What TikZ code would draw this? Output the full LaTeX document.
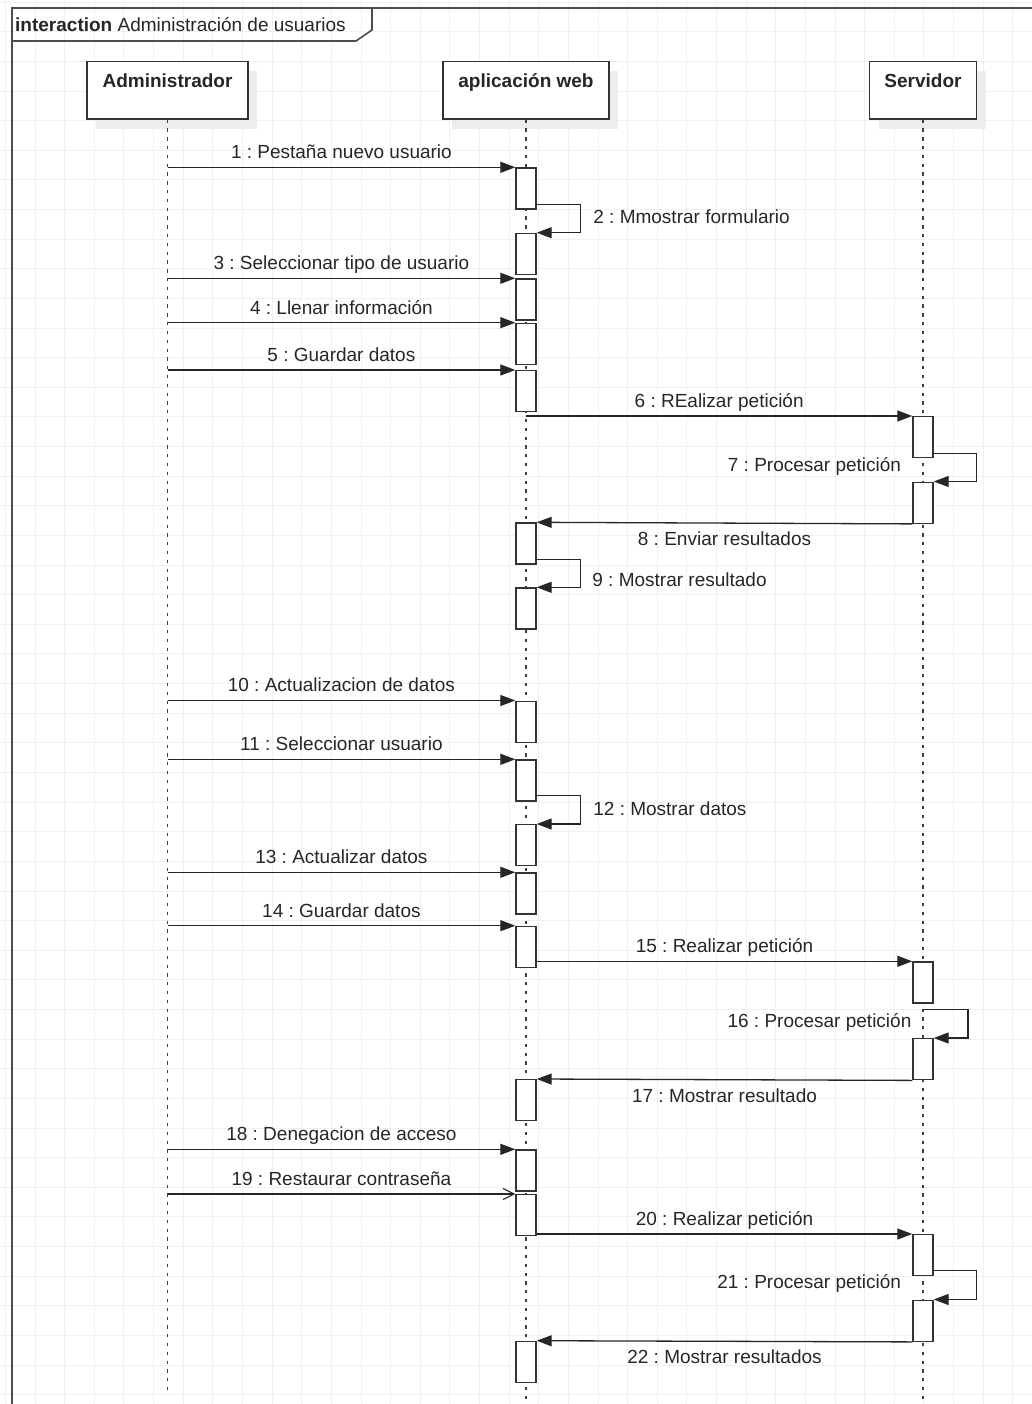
\documentclass[tikz,border=0pt]{standalone}
\usepackage{fontspec}
\setmainfont{Liberation Sans}
\usetikzlibrary{positioning,arrows.meta,shadows}
\frenchspacing

\begin{document}
\begin{tikzpicture}[x=1pt,y=-1pt,
  gridline/.style={draw=black!6, line width=0.9pt},
  frame/.style={draw=black!70, line width=1.6pt},
  lbl/.style={font=\fontsize{19}{22}\selectfont, text=black!85, inner sep=0pt, text height=14pt, text depth=0pt},
  actor/.style={draw=black!80, line width=1.4pt, fill=white, inner sep=0pt, anchor=north, text height=26.6pt, text depth=31pt, font=\fontsize{19}{22}\selectfont\bfseries, text=black!85, drop shadow={shadow xshift=9pt, shadow yshift=-10pt, fill=black!7, opacity=1}},
  act/.style={draw=black!80, line width=1.4pt, fill=white, minimum width=20pt, minimum height=41pt, inner sep=0pt, anchor=north},
  lifeline/.style={draw=black!75, line width=1.4pt, dash pattern=on 3.3pt off 5.5pt},
  msg/.style={draw=black!85, line width=1.3pt, -{Triangle[length=15pt,width=11pt]}},
  msgopen/.style={draw=black!85, line width=1.3pt, -{Straight Barb[length=11pt,width=11pt,line width=1.1pt]}}]
  \useasboundingbox (0,0) rectangle (1032,1404);
  \clip (0,0) rectangle (1032,1404);
  \foreach \i in {0,...,34} \draw[gridline] ({5.4+29.63*\i},0) -- ++(0,1404);
  \foreach \j in {0,...,47} \draw[gridline] (0,{2.07+29.63*\j}) -- ++(1032,0);

  \draw[frame] (12,8) rectangle (1045,1420);
  \draw[frame] (12,41) -- (356,41) -- (372,30) -- (372,8);
  \node[lbl, anchor=base west] (title) at (15,31.5) {\textbf{interaction} Administración de usuarios};

  \node[actor, minimum width=161pt] (adm) at (167.5,60.7) {Administrador};
  \node[actor, minimum width=166pt] (web) at (526,60.7) {aplicación web};
  \node[actor, minimum width=107pt] (srv) at (923,60.7) {Servidor};
  \draw[lifeline] (adm.south) -- ++(0,1270);
  \draw[lifeline] (web.south) -- ++(0,1290);
  \draw[lifeline] (srv.south) -- ++(0,1290);

  \foreach \n/\t in {1/167.3,2/232.7,3/278.3,4/322.7,5/370,6/522.3,7/587.3,8/700.5,9/759.3,10/824,11/872.3,12/925.7,13/1079,14/1149.3,15/1194,16/1340.7}
    \node[act] (w\n) at (526,\t) {};
  \foreach \n/\t in {1/416,2/481.5,3/961.3,4/1038,5/1234,6/1299.5}
    \node[act] (s\n) at (923,\t) {};

  \draw[msg] (adm.south |- w1.north) -- node[lbl, above=8pt] (m1) {1 : Pestaña nuevo usuario} (w1.north west);
  \draw[msg] ([yshift=5pt]w1.south east) -- ++(44,0) |- node[lbl, pos=0.25, right=12pt, yshift=2pt] (m2) {2 : Mmostrar formulario} (w2.north east);
  \draw[msg] (adm.south |- w3.north) -- node[lbl, above=8pt] (m3) {3 : Seleccionar tipo de usuario} (w3.north west);
  \draw[msg] (adm.south |- w4.north) -- node[lbl, above=8pt] (m4) {4 : Llenar información} (w4.north west);
  \draw[msg] (adm.south |- w5.north) -- node[lbl, above=8pt] (m5) {5 : Guardar datos} (w5.north west);
  \draw[msg] (web.south |- s1.north) -- node[lbl, above=8pt] (m6) {6 : REalizar petición} (s1.north west);
  \draw[msg] ([yshift=5pt]s1.south east) -- ++(43,0) |- node[lbl, pos=0.25, left=75pt, yshift=3pt] (m7) {7 : Procesar petición} (s2.north east);
  \draw[msg] (s2.south west) -- node[lbl, below=8pt] (m8) {8 : Enviar resultados} (w6.north east);
  \draw[msg] ([yshift=5pt]w6.south east) -- ++(44,0) |- node[lbl, pos=0.25, right=11pt, yshift=-6pt] (m9) {9 : Mostrar resultado} (w7.north east);

  \draw[msg] (adm.south |- w8.north) -- node[lbl, above=8pt] (m10) {10 : Actualizacion de datos} (w8.north west);
  \draw[msg] (adm.south |- w9.north) -- node[lbl, above=8pt] (m11) {11 : Seleccionar usuario} (w9.north west);
  \draw[msg] ([yshift=6pt]w9.south east) -- ++(44,0) |- node[lbl, pos=0.25, right=12pt, yshift=1.5pt] (m12) {12 : Mostrar datos} (w10.north east);
  \draw[msg] (adm.south |- w11.north) -- node[lbl, above=8pt] (m13) {13 : Actualizar datos} (w11.north west);
  \draw[msg] (adm.south |- w12.north) -- node[lbl, above=8pt] (m14) {14 : Guardar datos} (w12.north west);
  \draw[msg] (w12.east |- s3.north) -- node[lbl, above=8pt] (m15) {15 : Realizar petición} (s3.north west);
  \draw[msg] ([yshift=-6pt]s3.south) -- ++(45,0) |- node[lbl, pos=0.25, left=56pt, yshift=3pt] (m16) {16 : Procesar petición} (s4.north east);
  \draw[msg] (s4.south west) -- node[lbl, below=8pt] (m17) {17 : Mostrar resultado} (w13.north east);
  \draw[msg] (adm.south |- w14.north) -- node[lbl, above=8pt] (m18) {18 : Denegacion de acceso} (w14.north west);
  \draw[msgopen] (adm.south |- w15.north) -- node[lbl, above=8pt] (m19) {19 : Restaurar contraseña} (w15.north west);
  \draw[msg] (w15.east |- s5.north) -- node[lbl, above=8pt] (m20) {20 : Realizar petición} (s5.north west);
  \draw[msg] ([yshift=6pt]s5.south east) -- ++(43,0) |- node[lbl, pos=0.25, left=75pt, yshift=3pt] (m21) {21 : Procesar petición} (s6.north east);
  \draw[msg] (s6.south west) -- node[lbl, below=8pt] (m22) {22 : Mostrar resultados} (w16.north east);
\end{tikzpicture}
\end{document}
